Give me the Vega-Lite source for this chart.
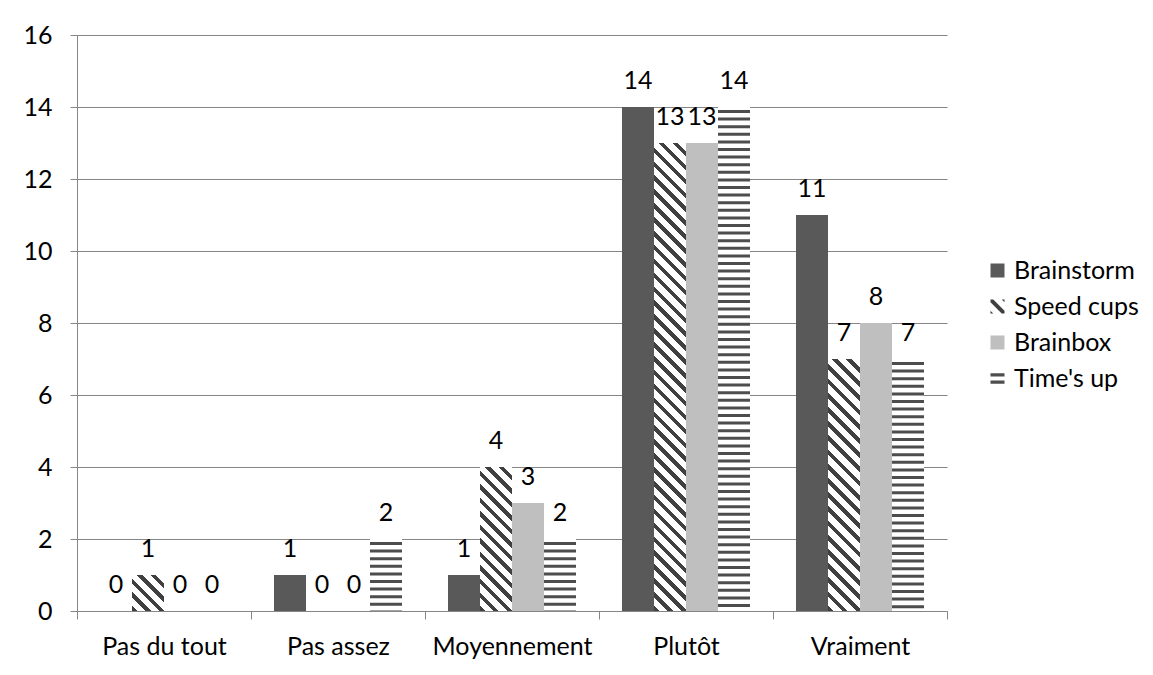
{
  "$schema": "https://vega.github.io/schema/vega-lite/v6.json",
  "width": 870,
  "height": 576,
  "autosize": {"type": "none"},
  "padding": {"left": 77, "top": 35, "right": 206, "bottom": 64},
  "background": "white",
  "config": {
    "view": {"stroke": null},
    "font": "Lato",
    "legend": {"orient": "none", "legendX": 908, "legendY": 223, "symbolSize": 196, "symbolStrokeWidth": 0, "symbolOpacity": 1, "labelFontSize": 25, "labelFont": "Lato", "labelColor": "#000000", "labelOffset": 4, "rowPadding": 10}
  },
  "data": {"values": [
    {"answer": "Pas du tout", "series": "Brainstorm", "value": 0},
    {"answer": "Pas du tout", "series": "Speed cups", "value": 1},
    {"answer": "Pas du tout", "series": "Brainbox", "value": 0},
    {"answer": "Pas du tout", "series": "Time's up", "value": 0},
    {"answer": "Pas assez", "series": "Brainstorm", "value": 1},
    {"answer": "Pas assez", "series": "Speed cups", "value": 0},
    {"answer": "Pas assez", "series": "Brainbox", "value": 0},
    {"answer": "Pas assez", "series": "Time's up", "value": 2},
    {"answer": "Moyennement", "series": "Brainstorm", "value": 1},
    {"answer": "Moyennement", "series": "Speed cups", "value": 4},
    {"answer": "Moyennement", "series": "Brainbox", "value": 3},
    {"answer": "Moyennement", "series": "Time's up", "value": 2},
    {"answer": "Plutôt", "series": "Brainstorm", "value": 14},
    {"answer": "Plutôt", "series": "Speed cups", "value": 13},
    {"answer": "Plutôt", "series": "Brainbox", "value": 13},
    {"answer": "Plutôt", "series": "Time's up", "value": 14},
    {"answer": "Vraiment", "series": "Brainstorm", "value": 11},
    {"answer": "Vraiment", "series": "Speed cups", "value": 7},
    {"answer": "Vraiment", "series": "Brainbox", "value": 8},
    {"answer": "Vraiment", "series": "Time's up", "value": 7}
  ]},
  "encoding": {
    "x": {
      "field": "answer", "type": "nominal",
      "sort": ["Pas du tout", "Pas assez", "Moyennement", "Plutôt", "Vraiment"],
      "scale": {"paddingInner": 0, "paddingOuter": 0},
      "axis": {"title": null, "labelAngle": 0, "tickBand": "extent", "tickSize": 8, "tickColor": "#868686", "domainColor": "#868686", "labelFontSize": 25, "labelFont": "Lato", "labelColor": "#000000", "labelPadding": 15, "grid": false}
    },
    "xOffset": {
      "field": "series", "type": "nominal",
      "sort": ["Brainstorm", "Speed cups", "Brainbox", "Time's up"],
      "scale": {"paddingInner": 0, "paddingOuter": 0.71875}
    },
    "y": {
      "field": "value", "type": "quantitative",
      "scale": {"domain": [0, 16], "nice": false},
      "axis": {"title": null, "values": [0, 2, 4, 6, 8, 10, 12, 14, 16], "grid": true, "gridColor": "#868686", "gridOpacity": 1, "tickSize": 7, "tickColor": "#868686", "domainColor": "#868686", "labelFontSize": 25, "labelFont": "Lato", "labelColor": "#000000", "labelPadding": 18}
    }
  },
  "layer": [
    {
      "mark": {"type": "bar"},
      "encoding": {
        "color": {
          "field": "series", "type": "nominal", "title": null,
          "sort": ["Brainstorm", "Speed cups", "Brainbox", "Time's up"],
          "scale": {"domain": ["Brainstorm", "Speed cups", "Brainbox", "Time's up"], "range": ["#595959", "#404040", "#bfbfbf", "#4d4d4d"]}
        }
      }
    },
    {
      "mark": {"type": "point", "filled": true, "opacity": 0},
      "encoding": {
        "color": {
          "field": "series", "type": "nominal", "title": null,
          "sort": ["Brainstorm", "Speed cups", "Brainbox", "Time's up"],
          "scale": {"domain": ["Brainstorm", "Speed cups", "Brainbox", "Time's up"], "range": ["#595959", "#404040", "#bfbfbf", "#4d4d4d"]}
        },
        "shape": {
          "field": "series", "type": "nominal", "title": null,
          "sort": ["Brainstorm", "Speed cups", "Brainbox", "Time's up"],
          "scale": {"domain": ["Brainstorm", "Speed cups", "Brainbox", "Time's up"], "range": [
            "square",
            "M -1 -1 L -0.6 -1 L 1 0.6 L 1 1 L 0.6 1 L -1 -0.6 Z M 0.6 -1 L 1 -1 L 1 -0.6 Z M -1 0.6 L -1 1 L -0.6 1 Z",
            "square",
            "M -1 -0.75 L 1 -0.75 L 1 -0.3 L -1 -0.3 Z M -1 0.3 L 1 0.3 L 1 0.75 L -1 0.75 Z"
          ]}
        }
      }
    },
    {
      "transform": [{"filter": "datum.series === 'Speed cups' && datum.value === 1"}],
      "mark": {"type": "bar", "fill": {"gradient": "linear", "x1": 0, "y1": 1, "x2": 0.93793, "y2": -0.05517, "stops": [
        {"offset": 0, "color": "#404040"}, {"offset": 0.08, "color": "#404040"}, {"offset": 0.08, "color": "#ffffff"}, {"offset": 0.2, "color": "#ffffff"},
        {"offset": 0.2, "color": "#404040"}, {"offset": 0.28, "color": "#404040"}, {"offset": 0.28, "color": "#ffffff"}, {"offset": 0.4, "color": "#ffffff"},
        {"offset": 0.4, "color": "#404040"}, {"offset": 0.48, "color": "#404040"}, {"offset": 0.48, "color": "#ffffff"}, {"offset": 0.6, "color": "#ffffff"},
        {"offset": 0.6, "color": "#404040"}, {"offset": 0.68, "color": "#404040"}, {"offset": 0.68, "color": "#ffffff"}, {"offset": 0.8, "color": "#ffffff"},
        {"offset": 0.8, "color": "#404040"}, {"offset": 0.88, "color": "#404040"}, {"offset": 0.88, "color": "#ffffff"}, {"offset": 1, "color": "#ffffff"}]}}
    },
    {
      "transform": [{"filter": "datum.series === 'Speed cups' && datum.value === 4"}],
      "mark": {"type": "bar", "fill": {"gradient": "linear", "x1": 0, "y1": 1, "x2": 0.258824, "y2": -0.164706, "stops": [
        {"offset": 0, "color": "#404040"}, {"offset": 0.03077, "color": "#404040"}, {"offset": 0.03077, "color": "#ffffff"}, {"offset": 0.07692, "color": "#ffffff"},
        {"offset": 0.07692, "color": "#404040"}, {"offset": 0.10769, "color": "#404040"}, {"offset": 0.10769, "color": "#ffffff"}, {"offset": 0.15385, "color": "#ffffff"},
        {"offset": 0.15385, "color": "#404040"}, {"offset": 0.18462, "color": "#404040"}, {"offset": 0.18462, "color": "#ffffff"}, {"offset": 0.23077, "color": "#ffffff"},
        {"offset": 0.23077, "color": "#404040"}, {"offset": 0.26154, "color": "#404040"}, {"offset": 0.26154, "color": "#ffffff"}, {"offset": 0.30769, "color": "#ffffff"},
        {"offset": 0.30769, "color": "#404040"}, {"offset": 0.33846, "color": "#404040"}, {"offset": 0.33846, "color": "#ffffff"}, {"offset": 0.38462, "color": "#ffffff"},
        {"offset": 0.38462, "color": "#404040"}, {"offset": 0.41538, "color": "#404040"}, {"offset": 0.41538, "color": "#ffffff"}, {"offset": 0.46154, "color": "#ffffff"},
        {"offset": 0.46154, "color": "#404040"}, {"offset": 0.49231, "color": "#404040"}, {"offset": 0.49231, "color": "#ffffff"}, {"offset": 0.53846, "color": "#ffffff"},
        {"offset": 0.53846, "color": "#404040"}, {"offset": 0.56923, "color": "#404040"}, {"offset": 0.56923, "color": "#ffffff"}, {"offset": 0.61538, "color": "#ffffff"},
        {"offset": 0.61538, "color": "#404040"}, {"offset": 0.64615, "color": "#404040"}, {"offset": 0.64615, "color": "#ffffff"}, {"offset": 0.69231, "color": "#ffffff"},
        {"offset": 0.69231, "color": "#404040"}, {"offset": 0.72308, "color": "#404040"}, {"offset": 0.72308, "color": "#ffffff"}, {"offset": 0.76923, "color": "#ffffff"},
        {"offset": 0.76923, "color": "#404040"}, {"offset": 0.8, "color": "#404040"}, {"offset": 0.8, "color": "#ffffff"}, {"offset": 0.84615, "color": "#ffffff"},
        {"offset": 0.84615, "color": "#404040"}, {"offset": 0.87692, "color": "#404040"}, {"offset": 0.87692, "color": "#ffffff"}, {"offset": 0.92308, "color": "#ffffff"},
        {"offset": 0.92308, "color": "#404040"}, {"offset": 0.95385, "color": "#404040"}, {"offset": 0.95385, "color": "#ffffff"}, {"offset": 1, "color": "#ffffff"}]}}
    },
    {
      "transform": [{"filter": "datum.series === 'Speed cups' && datum.value === 7"}],
      "mark": {"type": "bar", "fill": {"gradient": "linear", "x1": 0, "y1": 1, "x2": 0.140837, "y2": -0.109093, "stops": [
        {"offset": 0, "color": "#404040"}, {"offset": 0.02, "color": "#404040"}, {"offset": 0.02, "color": "#ffffff"}, {"offset": 0.05, "color": "#ffffff"},
        {"offset": 0.05, "color": "#404040"}, {"offset": 0.07, "color": "#404040"}, {"offset": 0.07, "color": "#ffffff"}, {"offset": 0.1, "color": "#ffffff"},
        {"offset": 0.1, "color": "#404040"}, {"offset": 0.12, "color": "#404040"}, {"offset": 0.12, "color": "#ffffff"}, {"offset": 0.15, "color": "#ffffff"},
        {"offset": 0.15, "color": "#404040"}, {"offset": 0.17, "color": "#404040"}, {"offset": 0.17, "color": "#ffffff"}, {"offset": 0.2, "color": "#ffffff"},
        {"offset": 0.2, "color": "#404040"}, {"offset": 0.22, "color": "#404040"}, {"offset": 0.22, "color": "#ffffff"}, {"offset": 0.25, "color": "#ffffff"},
        {"offset": 0.25, "color": "#404040"}, {"offset": 0.27, "color": "#404040"}, {"offset": 0.27, "color": "#ffffff"}, {"offset": 0.3, "color": "#ffffff"},
        {"offset": 0.3, "color": "#404040"}, {"offset": 0.32, "color": "#404040"}, {"offset": 0.32, "color": "#ffffff"}, {"offset": 0.35, "color": "#ffffff"},
        {"offset": 0.35, "color": "#404040"}, {"offset": 0.37, "color": "#404040"}, {"offset": 0.37, "color": "#ffffff"}, {"offset": 0.4, "color": "#ffffff"},
        {"offset": 0.4, "color": "#404040"}, {"offset": 0.42, "color": "#404040"}, {"offset": 0.42, "color": "#ffffff"}, {"offset": 0.45, "color": "#ffffff"},
        {"offset": 0.45, "color": "#404040"}, {"offset": 0.47, "color": "#404040"}, {"offset": 0.47, "color": "#ffffff"}, {"offset": 0.5, "color": "#ffffff"},
        {"offset": 0.5, "color": "#404040"}, {"offset": 0.52, "color": "#404040"}, {"offset": 0.52, "color": "#ffffff"}, {"offset": 0.55, "color": "#ffffff"},
        {"offset": 0.55, "color": "#404040"}, {"offset": 0.57, "color": "#404040"}, {"offset": 0.57, "color": "#ffffff"}, {"offset": 0.6, "color": "#ffffff"},
        {"offset": 0.6, "color": "#404040"}, {"offset": 0.62, "color": "#404040"}, {"offset": 0.62, "color": "#ffffff"}, {"offset": 0.65, "color": "#ffffff"},
        {"offset": 0.65, "color": "#404040"}, {"offset": 0.67, "color": "#404040"}, {"offset": 0.67, "color": "#ffffff"}, {"offset": 0.7, "color": "#ffffff"},
        {"offset": 0.7, "color": "#404040"}, {"offset": 0.72, "color": "#404040"}, {"offset": 0.72, "color": "#ffffff"}, {"offset": 0.75, "color": "#ffffff"},
        {"offset": 0.75, "color": "#404040"}, {"offset": 0.77, "color": "#404040"}, {"offset": 0.77, "color": "#ffffff"}, {"offset": 0.8, "color": "#ffffff"},
        {"offset": 0.8, "color": "#404040"}, {"offset": 0.82, "color": "#404040"}, {"offset": 0.82, "color": "#ffffff"}, {"offset": 0.85, "color": "#ffffff"},
        {"offset": 0.85, "color": "#404040"}, {"offset": 0.87, "color": "#404040"}, {"offset": 0.87, "color": "#ffffff"}, {"offset": 0.9, "color": "#ffffff"},
        {"offset": 0.9, "color": "#404040"}, {"offset": 0.92, "color": "#404040"}, {"offset": 0.92, "color": "#ffffff"}, {"offset": 0.95, "color": "#ffffff"},
        {"offset": 0.95, "color": "#404040"}, {"offset": 0.97, "color": "#404040"}, {"offset": 0.97, "color": "#ffffff"}, {"offset": 1, "color": "#ffffff"}]}}
    },
    {
      "transform": [{"filter": "datum.series === 'Speed cups' && datum.value === 13"}],
      "mark": {"type": "bar", "fill": {"gradient": "linear", "x1": 0, "y1": 1, "x2": 0.072711, "y2": -0.063401, "stops": [
        {"offset": 0, "color": "#404040"}, {"offset": 0.01111, "color": "#404040"}, {"offset": 0.01111, "color": "#ffffff"}, {"offset": 0.02778, "color": "#ffffff"},
        {"offset": 0.02778, "color": "#404040"}, {"offset": 0.03889, "color": "#404040"}, {"offset": 0.03889, "color": "#ffffff"}, {"offset": 0.05556, "color": "#ffffff"},
        {"offset": 0.05556, "color": "#404040"}, {"offset": 0.06667, "color": "#404040"}, {"offset": 0.06667, "color": "#ffffff"}, {"offset": 0.08333, "color": "#ffffff"},
        {"offset": 0.08333, "color": "#404040"}, {"offset": 0.09444, "color": "#404040"}, {"offset": 0.09444, "color": "#ffffff"}, {"offset": 0.11111, "color": "#ffffff"},
        {"offset": 0.11111, "color": "#404040"}, {"offset": 0.12222, "color": "#404040"}, {"offset": 0.12222, "color": "#ffffff"}, {"offset": 0.13889, "color": "#ffffff"},
        {"offset": 0.13889, "color": "#404040"}, {"offset": 0.15, "color": "#404040"}, {"offset": 0.15, "color": "#ffffff"}, {"offset": 0.16667, "color": "#ffffff"},
        {"offset": 0.16667, "color": "#404040"}, {"offset": 0.17778, "color": "#404040"}, {"offset": 0.17778, "color": "#ffffff"}, {"offset": 0.19444, "color": "#ffffff"},
        {"offset": 0.19444, "color": "#404040"}, {"offset": 0.20556, "color": "#404040"}, {"offset": 0.20556, "color": "#ffffff"}, {"offset": 0.22222, "color": "#ffffff"},
        {"offset": 0.22222, "color": "#404040"}, {"offset": 0.23333, "color": "#404040"}, {"offset": 0.23333, "color": "#ffffff"}, {"offset": 0.25, "color": "#ffffff"},
        {"offset": 0.25, "color": "#404040"}, {"offset": 0.26111, "color": "#404040"}, {"offset": 0.26111, "color": "#ffffff"}, {"offset": 0.27778, "color": "#ffffff"},
        {"offset": 0.27778, "color": "#404040"}, {"offset": 0.28889, "color": "#404040"}, {"offset": 0.28889, "color": "#ffffff"}, {"offset": 0.30556, "color": "#ffffff"},
        {"offset": 0.30556, "color": "#404040"}, {"offset": 0.31667, "color": "#404040"}, {"offset": 0.31667, "color": "#ffffff"}, {"offset": 0.33333, "color": "#ffffff"},
        {"offset": 0.33333, "color": "#404040"}, {"offset": 0.34444, "color": "#404040"}, {"offset": 0.34444, "color": "#ffffff"}, {"offset": 0.36111, "color": "#ffffff"},
        {"offset": 0.36111, "color": "#404040"}, {"offset": 0.37222, "color": "#404040"}, {"offset": 0.37222, "color": "#ffffff"}, {"offset": 0.38889, "color": "#ffffff"},
        {"offset": 0.38889, "color": "#404040"}, {"offset": 0.4, "color": "#404040"}, {"offset": 0.4, "color": "#ffffff"}, {"offset": 0.41667, "color": "#ffffff"},
        {"offset": 0.41667, "color": "#404040"}, {"offset": 0.42778, "color": "#404040"}, {"offset": 0.42778, "color": "#ffffff"}, {"offset": 0.44444, "color": "#ffffff"},
        {"offset": 0.44444, "color": "#404040"}, {"offset": 0.45556, "color": "#404040"}, {"offset": 0.45556, "color": "#ffffff"}, {"offset": 0.47222, "color": "#ffffff"},
        {"offset": 0.47222, "color": "#404040"}, {"offset": 0.48333, "color": "#404040"}, {"offset": 0.48333, "color": "#ffffff"}, {"offset": 0.5, "color": "#ffffff"},
        {"offset": 0.5, "color": "#404040"}, {"offset": 0.51111, "color": "#404040"}, {"offset": 0.51111, "color": "#ffffff"}, {"offset": 0.52778, "color": "#ffffff"},
        {"offset": 0.52778, "color": "#404040"}, {"offset": 0.53889, "color": "#404040"}, {"offset": 0.53889, "color": "#ffffff"}, {"offset": 0.55556, "color": "#ffffff"},
        {"offset": 0.55556, "color": "#404040"}, {"offset": 0.56667, "color": "#404040"}, {"offset": 0.56667, "color": "#ffffff"}, {"offset": 0.58333, "color": "#ffffff"},
        {"offset": 0.58333, "color": "#404040"}, {"offset": 0.59444, "color": "#404040"}, {"offset": 0.59444, "color": "#ffffff"}, {"offset": 0.61111, "color": "#ffffff"},
        {"offset": 0.61111, "color": "#404040"}, {"offset": 0.62222, "color": "#404040"}, {"offset": 0.62222, "color": "#ffffff"}, {"offset": 0.63889, "color": "#ffffff"},
        {"offset": 0.63889, "color": "#404040"}, {"offset": 0.65, "color": "#404040"}, {"offset": 0.65, "color": "#ffffff"}, {"offset": 0.66667, "color": "#ffffff"},
        {"offset": 0.66667, "color": "#404040"}, {"offset": 0.67778, "color": "#404040"}, {"offset": 0.67778, "color": "#ffffff"}, {"offset": 0.69444, "color": "#ffffff"},
        {"offset": 0.69444, "color": "#404040"}, {"offset": 0.70556, "color": "#404040"}, {"offset": 0.70556, "color": "#ffffff"}, {"offset": 0.72222, "color": "#ffffff"},
        {"offset": 0.72222, "color": "#404040"}, {"offset": 0.73333, "color": "#404040"}, {"offset": 0.73333, "color": "#ffffff"}, {"offset": 0.75, "color": "#ffffff"},
        {"offset": 0.75, "color": "#404040"}, {"offset": 0.76111, "color": "#404040"}, {"offset": 0.76111, "color": "#ffffff"}, {"offset": 0.77778, "color": "#ffffff"},
        {"offset": 0.77778, "color": "#404040"}, {"offset": 0.78889, "color": "#404040"}, {"offset": 0.78889, "color": "#ffffff"}, {"offset": 0.80556, "color": "#ffffff"},
        {"offset": 0.80556, "color": "#404040"}, {"offset": 0.81667, "color": "#404040"}, {"offset": 0.81667, "color": "#ffffff"}, {"offset": 0.83333, "color": "#ffffff"},
        {"offset": 0.83333, "color": "#404040"}, {"offset": 0.84444, "color": "#404040"}, {"offset": 0.84444, "color": "#ffffff"}, {"offset": 0.86111, "color": "#ffffff"},
        {"offset": 0.86111, "color": "#404040"}, {"offset": 0.87222, "color": "#404040"}, {"offset": 0.87222, "color": "#ffffff"}, {"offset": 0.88889, "color": "#ffffff"},
        {"offset": 0.88889, "color": "#404040"}, {"offset": 0.9, "color": "#404040"}, {"offset": 0.9, "color": "#ffffff"}, {"offset": 0.91667, "color": "#ffffff"},
        {"offset": 0.91667, "color": "#404040"}, {"offset": 0.92778, "color": "#404040"}, {"offset": 0.92778, "color": "#ffffff"}, {"offset": 0.94444, "color": "#ffffff"},
        {"offset": 0.94444, "color": "#404040"}, {"offset": 0.95556, "color": "#404040"}, {"offset": 0.95556, "color": "#ffffff"}, {"offset": 0.97222, "color": "#ffffff"},
        {"offset": 0.97222, "color": "#404040"}, {"offset": 0.98333, "color": "#404040"}, {"offset": 0.98333, "color": "#ffffff"}, {"offset": 1, "color": "#ffffff"}]}}
    },
    {
      "transform": [{"filter": "datum.series === \"Time's up\""}],
      "mark": {"type": "bar", "fill": "#ffffff"}
    },
    {
      "transform": [{"filter": "datum.series === \"Time's up\""}],
      "mark": {"type": "rule", "strokeWidth": 32, "strokeDash": [3, 4.6], "strokeDashOffset": 4.6, "strokeCap": "butt", "color": "#4d4d4d"},
      "encoding": {"y2": {"datum": 0}}
    },
    {
      "mark": {"type": "text", "dy": -26, "baseline": "middle", "fontSize": 25, "font": "Lato", "color": "#000000"},
      "encoding": {"text": {"field": "value", "type": "quantitative"}}
    }
  ]
}
